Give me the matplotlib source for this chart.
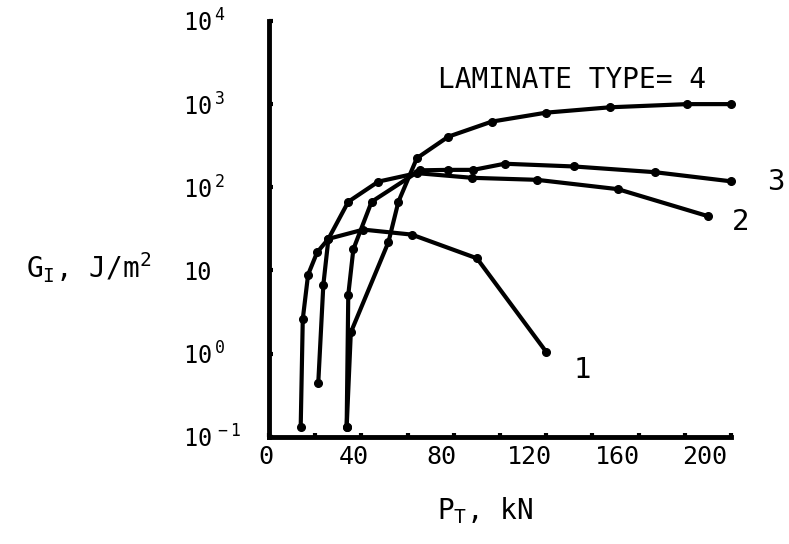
import matplotlib
matplotlib.use("Agg")
import matplotlib.pyplot as plt
from matplotlib.ticker import FixedLocator
from matplotlib.transforms import ScaledTranslation

# curve data (P_T in kN, G_I in J/m^2)
p1 = [13.7, 14.6, 16.9, 20.8, 25.7, 40.8, 61.8, 90.0, 120.0]
g1 = [0.13, 2.6, 8.9, 16.5, 24.0, 31.0, 27.0, 14.0, 1.05]

p2 = [21.3, 23.5, 25.7, 34.3, 47.3, 64.0, 88.0, 116.0, 151.0, 190.0]
g2 = [0.44, 6.7, 24.0, 67.0, 117.0, 148.0, 130.0, 123.0, 95.0, 45.0]

p3 = [33.6, 34.3, 36.5, 44.4, 65.4, 77.6, 88.4, 102.0, 132.0, 167.0, 200.0]
g3 = [0.13, 5.1, 18.0, 67.0, 160.0, 162.0, 162.0, 192.0, 178.0, 152.0, 118.0]

p4 = [33.6, 35.4, 51.7, 56.0, 64.0, 77.6, 96.4, 120.0, 147.6, 181.0, 200.0]
g4 = [0.13, 1.8, 22.0, 67.0, 224.0, 406.0, 616.0, 790.0, 916.0, 1000.0, 1000.0]

x_major = [0, 40, 80, 120, 160, 200]
x_minor = [20, 60, 100, 140, 180]
y_ticks = [0.1, 1, 10, 100, 1000, 10000]
y_labels = [r"10$^{\,-1}$", r"10$^{\,0}$", "10", r"10$^{\,2}$",
            r"10$^{\,3}$", r"10$^{\,4}$"]

curve_labels = ["1", "2", "3"]
curve_label_pos = [(135.5, 0.64), (204.0, 38.0), (219.5, 116.0)]


def main():
    plt.rcParams["font.family"] = "DejaVu Sans Mono"
    plt.rcParams["mathtext.default"] = "regular"
    plt.rcParams["font.size"] = 15

    fig = plt.figure(figsize=(7.89, 5.44), dpi=100)
    ax = fig.add_axes([0.341, 0.197, 0.5855, 0.7645])

    for p, g in [(p1, g1), (p2, g2), (p3, g3), (p4, g4)]:
        ax.plot(p, g, color="black", lw=3, marker="o", ms=5.5,
                solid_capstyle="round", clip_on=False)

    ax.set_yscale("log")
    ax.set_xlim(0, 200)
    ax.set_ylim(0.1, 10000)

    ax.spines["top"].set_visible(False)
    ax.spines["right"].set_visible(False)
    ax.spines["left"].set_linewidth(3.5)
    ax.spines["bottom"].set_linewidth(3.5)

    ax.xaxis.set_major_locator(FixedLocator(x_major))
    ax.xaxis.set_minor_locator(FixedLocator(x_minor))
    ax.set_xticklabels([str(v) for v in x_major])
    ax.set_yticks(y_ticks, y_labels)
    ax.yaxis.set_minor_locator(FixedLocator([]))

    ax.tick_params(axis="x", which="both", direction="in", length=3,
                   width=3, pad=6, labelsize=18)
    ax.tick_params(axis="y", which="major", direction="in", length=3,
                   width=3, pad=62, labelsize=17)
    for lab in ax.get_yticklabels():
        lab.set_horizontalalignment("left")
    # the original plotter drew the x labels slightly to the left
    for v, lab in zip(x_major, ax.get_xticklabels()):
        shift = -(3 + 0.115 * v) / fig.dpi
        lab.set_transform(lab.get_transform()
                          + ScaledTranslation(shift, 0, fig.dpi_scale_trans))

    ax.set_xlabel("P$_{T}$, kN", fontsize=20)
    ax.xaxis.set_label_coords(0.4675, -0.14)
    ax.set_ylabel("G$_{I}$, J/m$^{2}$", fontsize=20, rotation=0,
                  ha="center", va="center")
    ax.yaxis.set_label_coords(-0.39, 0.406)

    ax.text(131, 1950, "LAMINATE TYPE= 4", fontsize=20,
            ha="center", va="center")
    for lab, (x, y) in zip(curve_labels, curve_label_pos):
        ax.text(x, y, lab, fontsize=21, ha="center", va="center",
                clip_on=False)

    fig.savefig("out.png", dpi=100)


if __name__ == "__main__":
    main()
